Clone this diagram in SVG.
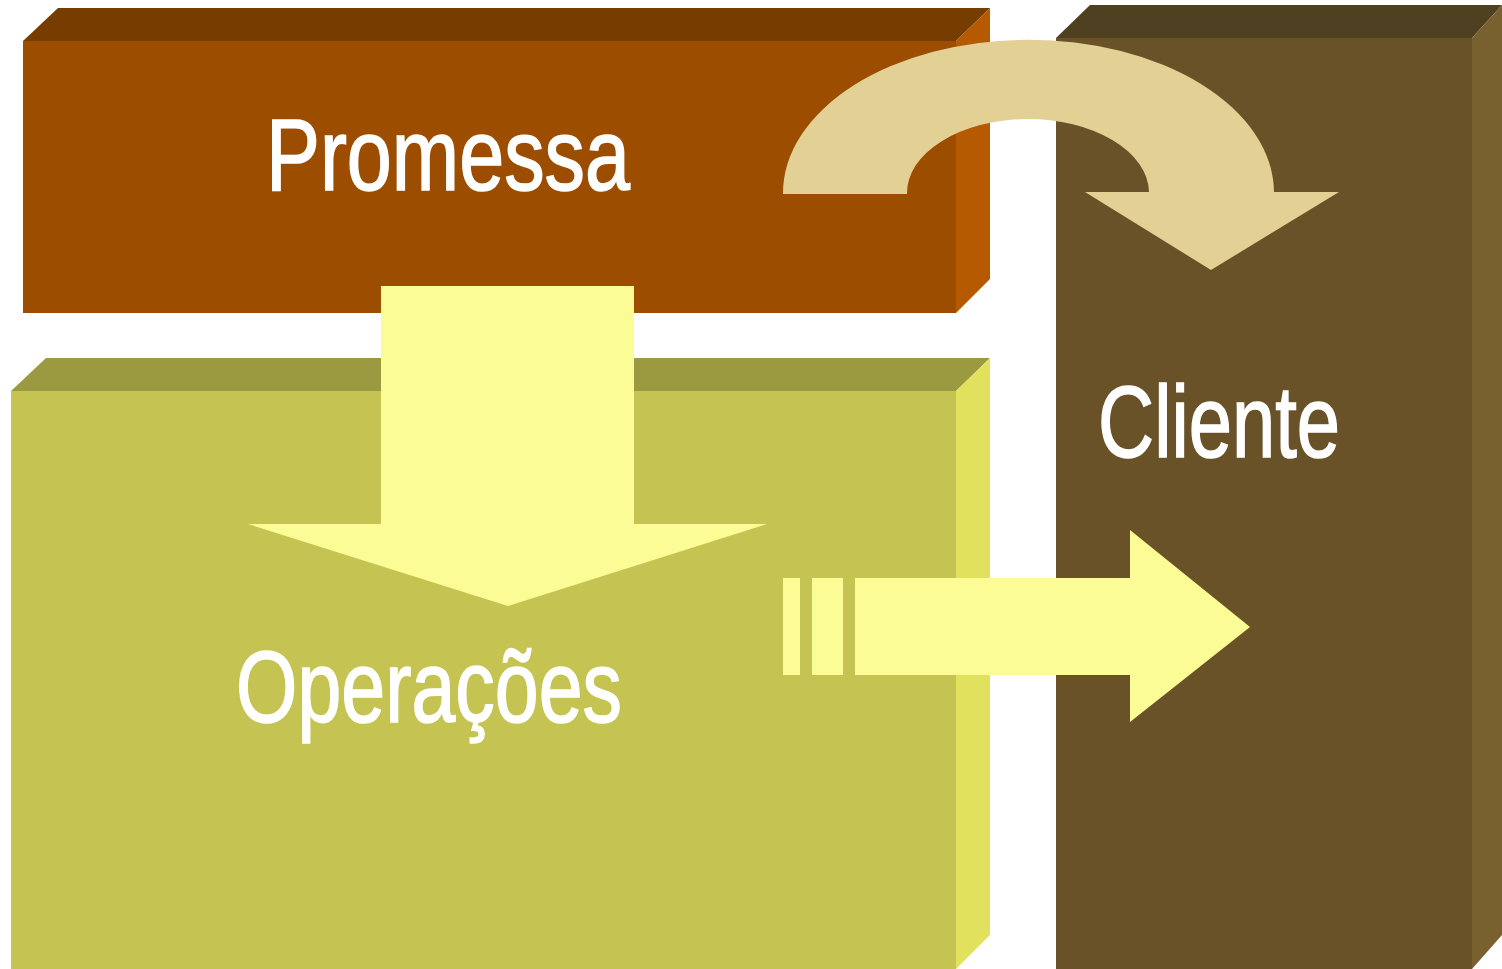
<svg xmlns="http://www.w3.org/2000/svg" width="1502" height="969" viewBox="0 0 1502 969">
<style>
.lbl{font-family:"Liberation Sans Narrow","Liberation Sans",Arial,sans-serif;font-size:102px;fill:#ffffff;stroke:#ffffff;stroke-width:1.6px;}
.arrow{fill:#FCFC96;}
</style>
<rect width="1502" height="969" fill="#ffffff"/>
<g id="promessa">
<polygon points="23,41 58,8 990,8 956,41" fill="#773D00"/>
<polygon points="956,41 990,8 990,279 956,313" fill="#B55A00"/>
<rect x="23" y="41" width="933" height="272" fill="#9C4D00"/>
</g>
<g id="operacoes">
<polygon points="11,391 46,358 990,358 956,391" fill="#9B9A40"/>
<polygon points="956,391 990,358 990,935 956,969" fill="#E2E15E"/>
<rect x="11" y="391" width="945" height="578" fill="#C5C452"/>
</g>
<g id="cliente">
<polygon points="1056,38 1090,5 1502,5 1472,38" fill="#4E4020"/>
<polygon points="1472,38 1502,5 1502,935 1472,969" fill="#78602F"/>
<rect x="1056" y="38" width="416" height="931" fill="#695228"/>
</g>
<g id="connectors">
<path d="M783,194 A245,153 0 0 1 1274,192 L1339,192 L1211,270 L1085,192 L1149,192 A121,74 0 0 0 907,194 Z" fill="#E3D094"/>
<polygon class="arrow" points="381,286 634,286 634,524 767,524 508,606 248,524 381,524"/>
<rect class="arrow" x="783" y="578" width="17" height="97"/>
<rect class="arrow" x="812" y="578" width="31" height="97"/>
<polygon class="arrow" points="855,578 1130,578 1130,530 1250,627 1130,722 1130,675 855,675"/>
</g>
<text class="lbl" x="266" y="190" textLength="364" lengthAdjust="spacingAndGlyphs">Promessa</text>
<text class="lbl" x="236" y="722" textLength="386" lengthAdjust="spacingAndGlyphs">Operações</text>
<text class="lbl" x="1098" y="457" textLength="242" lengthAdjust="spacingAndGlyphs">Cliente</text>
</svg>
